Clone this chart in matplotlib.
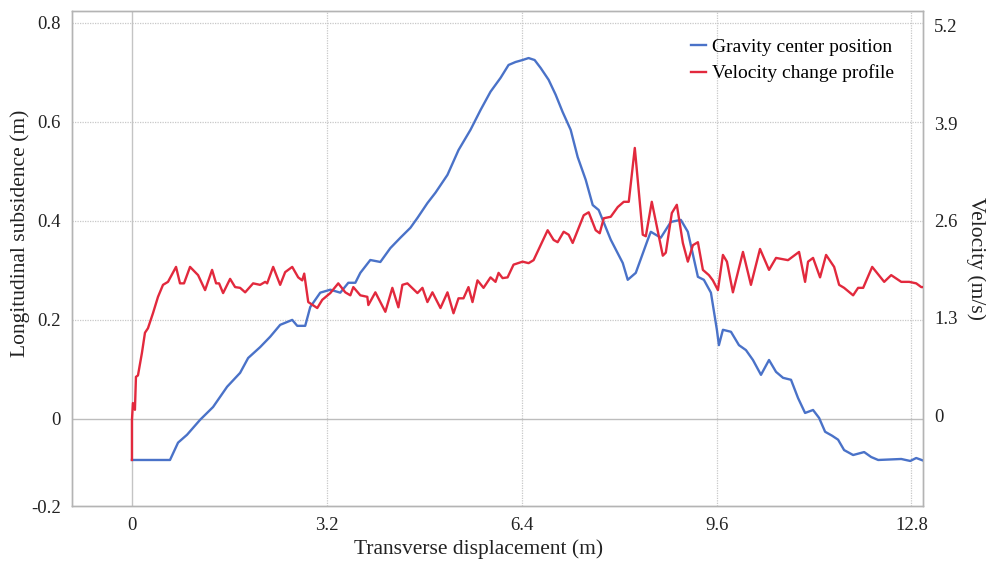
import numpy as np
import matplotlib
matplotlib.use('Agg')
import matplotlib.pyplot as plt
from matplotlib.ticker import FixedLocator

# gravity center position (left axis, m)
gc_x = [0, 0.625, 0.757, 0.905, 1.118, 1.332, 1.563, 1.776, 1.908, 2.105, 2.270, 2.434,
        2.632, 2.714, 2.845, 2.928, 3.092, 3.257, 3.421, 3.553, 3.668, 3.750, 3.914, 4.079,
        4.243, 4.408, 4.572, 4.688, 4.852, 4.984, 5.181, 5.362, 5.559, 5.724, 5.888, 6.053,
        6.184, 6.299, 6.414, 6.513, 6.612, 6.711, 6.842, 6.957, 7.072, 7.204, 7.319, 7.451,
        7.566, 7.664, 7.862, 8.059, 8.141, 8.273, 8.470, 8.520, 8.684, 8.849, 9.013, 9.128,
        9.293, 9.391, 9.507, 9.605, 9.638, 9.704, 9.836, 9.967, 10.082, 10.197, 10.329,
        10.461, 10.576, 10.691, 10.822, 10.938, 11.053, 11.184, 11.283, 11.382, 11.497,
        11.595, 11.694, 11.842, 12.023, 12.138, 12.253, 12.632, 12.780, 12.878, 13.010]
gc_y = [-0.083, -0.083, -0.048, -0.032, -0.002, 0.024, 0.065, 0.093, 0.123, 0.145, 0.166,
        0.190, 0.200, 0.188, 0.188, 0.226, 0.255, 0.261, 0.255, 0.275, 0.275, 0.295, 0.321,
        0.317, 0.345, 0.366, 0.386, 0.406, 0.436, 0.457, 0.493, 0.543, 0.584, 0.624, 0.661,
        0.689, 0.715, 0.721, 0.725, 0.729, 0.725, 0.709, 0.685, 0.655, 0.620, 0.584, 0.529,
        0.483, 0.432, 0.422, 0.362, 0.315, 0.281, 0.295, 0.362, 0.378, 0.366, 0.398, 0.402,
        0.378, 0.287, 0.281, 0.255, 0.180, 0.149, 0.180, 0.176, 0.149, 0.139, 0.119, 0.089,
        0.119, 0.095, 0.083, 0.079, 0.042, 0.012, 0.018, 0.002, -0.026, -0.034, -0.042,
        -0.063, -0.073, -0.067, -0.077, -0.083, -0.081, -0.085, -0.079, -0.085]

# velocity change profile (right axis, m/s)
vel_x = [0, 0, 0.016, 0.049, 0.066, 0.099, 0.164, 0.214, 0.263, 0.345, 0.428, 0.510, 0.592,
         0.724, 0.789, 0.855, 0.954, 1.086, 1.201, 1.316, 1.382, 1.431, 1.497, 1.612, 1.694,
         1.776, 1.859, 1.990, 2.105, 2.188, 2.220, 2.319, 2.434, 2.516, 2.632, 2.730, 2.796,
         2.829, 2.895, 3.043, 3.125, 3.257, 3.388, 3.503, 3.586, 3.635, 3.750, 3.865, 3.882,
         3.997, 4.161, 4.276, 4.375, 4.441, 4.523, 4.688, 4.770, 4.852, 4.934, 5.066, 5.181,
         5.280, 5.362, 5.444, 5.526, 5.592, 5.674, 5.773, 5.888, 5.970, 6.020, 6.086, 6.168,
         6.266, 6.414, 6.513, 6.595, 6.826, 6.924, 6.990, 7.089, 7.171, 7.237, 7.418, 7.500,
         7.615, 7.681, 7.747, 7.862, 7.977, 8.076, 8.158, 8.257, 8.388, 8.438, 8.536, 8.717,
         8.766, 8.865, 8.947, 9.046, 9.128, 9.211, 9.293, 9.375, 9.474, 9.539, 9.622, 9.704,
         9.770, 9.868, 10.033, 10.164, 10.313, 10.461, 10.576, 10.773, 10.954, 11.053, 11.102,
         11.184, 11.299, 11.398, 11.530, 11.612, 11.694, 11.842, 11.924, 12.007, 12.155,
         12.352, 12.467, 12.632, 12.763, 12.878, 12.961, 13.010]
vel_y = [-0.60, -0.07, 0.16, 0.07, 0.51, 0.53, 0.83, 1.10, 1.16, 1.36, 1.58, 1.74, 1.78,
         1.98, 1.76, 1.76, 1.98, 1.87, 1.67, 1.94, 1.76, 1.76, 1.63, 1.82, 1.71, 1.70, 1.64,
         1.76, 1.74, 1.78, 1.76, 1.98, 1.74, 1.91, 1.98, 1.84, 1.80, 1.89, 1.51, 1.43, 1.54,
         1.63, 1.76, 1.64, 1.60, 1.71, 1.60, 1.58, 1.47, 1.64, 1.38, 1.70, 1.44, 1.74, 1.76,
         1.63, 1.70, 1.51, 1.64, 1.43, 1.64, 1.36, 1.56, 1.56, 1.71, 1.51, 1.80, 1.70, 1.84,
         1.78, 1.90, 1.83, 1.84, 2.01, 2.05, 2.03, 2.07, 2.47, 2.34, 2.31, 2.45, 2.41, 2.30,
         2.67, 2.71, 2.47, 2.43, 2.63, 2.65, 2.78, 2.85, 2.85, 3.57, 2.41, 2.39, 2.85, 2.13,
         2.17, 2.70, 2.81, 2.30, 2.05, 2.27, 2.31, 1.94, 1.87, 1.80, 1.67, 2.14, 2.05, 1.64,
         2.18, 1.74, 2.22, 1.94, 2.10, 2.07, 2.18, 1.78, 2.05, 2.10, 1.84, 2.14, 1.98, 1.74,
         1.70, 1.60, 1.70, 1.70, 1.98, 1.78, 1.87, 1.78, 1.78, 1.76, 1.71, 1.71]

x_ticks = [0, 3.2, 6.4, 9.6, 12.8]
left_ticks = [0, 0.2, 0.4, 0.6, 0.8]
right_ticks = [0, 1.3, 2.6, 3.9, 5.2]

plt.rcParams['font.family'] = ['Liberation Serif', 'DejaVu Serif']

fig = plt.figure(figsize=(9.87, 5.65), dpi=100)
ax = fig.add_axes([0.0729, 0.1044, 0.8623, 0.8761])
ax2 = ax.twinx()

blue = '#4a72c8'
red = '#e2293d'
grid_c = '#c8c8c8'

ax.set_xlim(-0.985, 12.99)
ax.set_ylim(-0.176, 0.824)
ax2.set_ylim(-1.216, 5.40)

# grid
for t in left_ticks[1:]:
    ax.axhline(t, color=grid_c, lw=0.9, ls=(0, (1, 1)), zorder=0)
ax.axhline(0, color='#bdbdbd', lw=1.0, zorder=0)
for t in x_ticks[1:]:
    ax.axvline(t, color=grid_c, lw=0.9, ls=(0, (1, 1)), zorder=0)
ax.axvline(0, color='#c4c4c4', lw=1.0, zorder=0)

l1, = ax.plot(gc_x, gc_y, color=blue, lw=1.7, label='Gravity center position', zorder=3)
l2, = ax2.plot(vel_x, vel_y, color=red, lw=1.7, label='Velocity change profile', zorder=3)

for a in (ax, ax2):
    for s in a.spines.values():
        s.set_color('#b4b4b4')
        s.set_linewidth(1.0)

ax.set_xticks(x_ticks)
ax.set_xticklabels(['0', '3.2', '6.4', '9.6', '12.8'])
ax.yaxis.set_major_locator(FixedLocator([-0.176] + left_ticks))
ax.set_yticklabels(['-0.2', '0', '0.2', '0.4', '0.6', '0.8'])
ax2.set_yticks(right_ticks)
ax2.set_yticklabels(['0', '1.3', '2.6', '3.9', '5.2'])

ax.tick_params(axis='both', length=0, pad=8, labelsize=13.5, colors='#222222')
ax2.tick_params(axis='y', length=0, pad=8, labelsize=13.5, colors='#222222')

ax.set_xlabel('Transverse displacement (m)', fontsize=15.5, color='#222222')
ax.xaxis.set_label_coords(0.478, -0.068, transform=ax.transAxes)
ax.set_ylabel('Longitudinal subsidence (m)', fontsize=15.5, color='#222222')
ax.yaxis.set_label_coords(-0.049, 0.55, transform=ax.transAxes)
ax2.set_ylabel('Velocity (m/s)', fontsize=15.5, color='#222222', rotation=-90, labelpad=20)

ax.legend(handles=[l1, l2], loc='upper left', bbox_to_anchor=(0.727, 0.945),
          frameon=False, fontsize=14, handlelength=0.8, handletextpad=0.3,
          borderaxespad=0, borderpad=0, labelspacing=0.45)

fig.savefig('out.png', dpi=100)
